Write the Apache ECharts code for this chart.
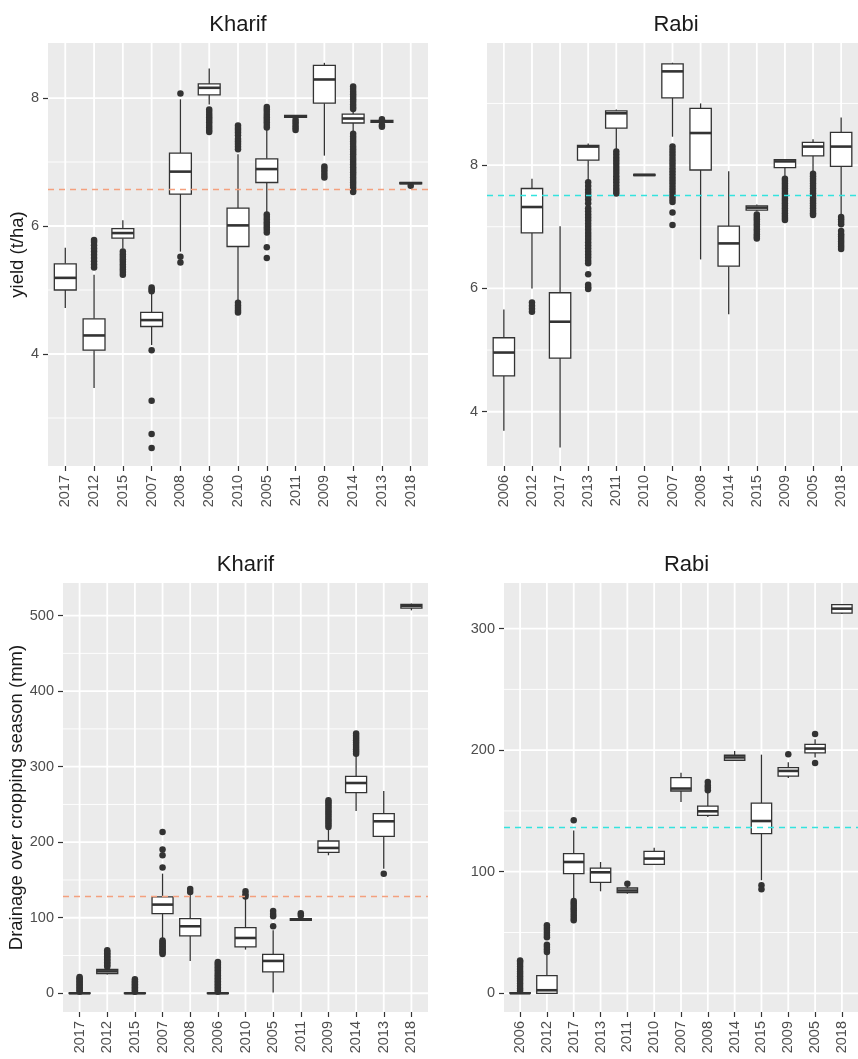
<!DOCTYPE html>
<html><head><meta charset="utf-8">
<script src="https://cdn.jsdelivr.net/npm/echarts@6/dist/echarts.min.js"></script>
<style>html,body{margin:0;padding:0;background:#fff}#c{width:858px;height:1059px}</style>
</head><body><div id="c"></div>
<script>
// ---------------- DATA ----------------
// box stats: [lower whisker, Q1, median, Q3, upper whisker]
const kyCats = ['2017','2012','2015','2007','2008','2006','2010','2005','2011','2009','2014','2013','2018'];
const kyBox = [
  [4.72, 5.0, 5.19, 5.41, 5.66],
  [3.47, 4.06, 4.29, 4.55, 5.24],
  [5.65, 5.81, 5.89, 5.96, 6.09],
  [4.14, 4.43, 4.53, 4.65, 4.95],
  [5.6, 6.5, 6.85, 7.14, 7.98],
  [7.9, 8.05, 8.16, 8.22, 8.46],
  [4.84, 5.68, 6.01, 6.28, 7.12],
  [6.22, 6.68, 6.89, 7.05, 7.5],
  [7.7, 7.7, 7.71, 7.73, 7.73],
  [7.1, 7.92, 8.29, 8.51, 8.55],
  [7.47, 7.61, 7.68, 7.75, 7.8],
  [7.62, 7.62, 7.63, 7.65, 7.65],
  [6.66, 6.66, 6.67, 6.68, 6.68]
];
const kyOut = [
  [],
  [5.35,5.4,5.45,5.5,5.55,5.6,5.65,5.7,5.75,5.78],
  [5.24,5.28,5.32,5.36,5.4,5.44,5.48,5.52,5.56,5.6],
  [4.98,5.01,5.04,4.06,3.27,2.75,2.53],
  [8.07,5.52,5.43],
  [7.47,7.5,7.54,7.58,7.62,7.66,7.7,7.74,7.78,7.82],
  [7.57,7.53,7.5,7.46,7.42,7.36,7.32,7.28,7.24,7.2,4.8,4.76,4.72,4.68,4.65],
  [7.86,7.82,7.78,7.74,7.7,7.66,7.62,7.58,7.54,6.18,6.14,6.1,6.06,6.02,5.98,5.94,5.9,5.67,5.5],
  [7.66,7.62,7.58,7.54,7.5],
  [6.93,6.89,6.85,6.8,6.76],
  [8.18,8.14,8.1,8.06,8.02,7.98,7.94,7.9,7.86,7.83,7.44,7.4,7.36,7.32,7.28,7.24,7.2,7.16,7.12,7.08,7.04,7.0,6.96,6.92,6.88,6.84,6.8,6.76,6.72,6.68,6.64,6.6,6.56,6.53],
  [7.67,7.58,7.55],
  [6.63]
];
const kyRef = 6.57;

const ryCats = ['2006','2012','2017','2013','2011','2010','2007','2008','2014','2015','2009','2005','2018'];
const ryBox = [
  [3.69, 4.58, 4.96, 5.2, 5.66],
  [6.0, 6.9, 7.32, 7.62, 7.78],
  [3.42, 4.87, 5.46, 5.93, 7.01],
  [7.76, 8.08, 8.3, 8.32, 8.35],
  [8.24, 8.6, 8.84, 8.88, 8.9],
  [7.83, 7.83, 7.84, 7.85, 7.85],
  [8.46, 9.09, 9.52, 9.64, 9.66],
  [6.47, 7.92, 8.52, 8.92, 9.0],
  [5.58, 6.36, 6.73, 7.01, 7.9],
  [7.25, 7.27, 7.31, 7.34, 7.36],
  [7.81, 7.96, 8.06, 8.09, 8.1],
  [7.87, 8.15, 8.3, 8.37, 8.42],
  [7.2, 7.98, 8.3, 8.53, 8.77]
];
const ryOut = [
  [],
  [5.77,5.72,5.67,5.62],
  [],
  [7.72,7.66,7.6,7.55,7.5,7.44,7.38,7.3,7.25,7.2,7.15,7.1,7.05,7.0,6.95,6.9,6.85,6.8,6.75,6.7,6.65,6.6,6.55,6.5,6.45,6.41,6.23,6.06,6.02,5.99],
  [8.22,8.17,8.12,8.07,8.02,7.97,7.92,7.87,7.82,7.77,7.72,7.67,7.62,7.58,7.54],
  [],
  [8.3,8.25,8.2,8.15,8.1,8.05,8.0,7.95,7.9,7.85,7.8,7.75,7.7,7.65,7.6,7.55,7.5,7.45,7.4,7.23,7.03],
  [],
  [],
  [7.2,7.16,7.12,7.08,7.04,7.0,6.96,6.92,6.88,6.84,6.81],
  [7.78,7.74,7.7,7.66,7.62,7.58,7.54,7.5,7.46,7.42,7.38,7.34,7.3,7.26,7.22,7.18,7.14,7.11],
  [7.86,7.82,7.78,7.74,7.7,7.66,7.62,7.58,7.54,7.5,7.46,7.42,7.38,7.34,7.3,7.26,7.22,7.19],
  [7.16,7.12,7.08,7.04,6.93,6.88,6.84,6.8,6.76,6.72,6.68,6.64]
];
const ryRef = 7.51;

const kdCats = ['2017','2012','2015','2007','2008','2006','2010','2005','2011','2009','2014','2013','2018'];
const kdBox = [
  [0, 0, 0, 0.5, 1],
  [25, 26, 29, 31.7, 34],
  [0, 0, 0, 0.5, 1],
  [72.4, 105.5, 117.4, 127.5, 158.4],
  [42.8, 75.9, 88.7, 98.9, 132],
  [0, 0, 0, 0.5, 1],
  [57.8, 61.3, 73.2, 87, 125],
  [1, 28.2, 42.8, 51.6, 83.4],
  [96, 96.6, 97.8, 98.9, 100],
  [182.7, 186.6, 192.4, 201.6, 218],
  [241.3, 265.7, 278.4, 287.3, 315],
  [165, 207.8, 227.7, 237.9, 267.8],
  [507, 510, 513, 515, 516]
];
const kdOut = [
  [2,4,6,8,10,12,14,16,18,20,21.6],
  [35,37,39,41,43,45,47,49,51,53,55,57],
  [2,4,6,8,10,12,14,16,18.5],
  [213.5,190.2,182.7,166.4,70,68,66,64,62,60,58,56,54,52],
  [138,134],
  [2,4,6,8,10,12,14,16,18,20,22,24,26,28,30,32,34,36,38,40,41.4],
  [135,131,128],
  [109,105,102,88.7],
  [106,103],
  [220,223,226,229,232,235,238,241,244,247,250,253,255.5],
  [317,320,323,326,329,332,335,338,341,343.8],
  [158.4],
  []
];
const kdRef = 128.8;

const rdCats = ['2006','2012','2017','2013','2011','2010','2007','2008','2014','2015','2009','2005','2018'];
const rdBox = [
  [0, 0, 0, 0.5, 1],
  [0, 0, 2.5, 14.5, 32],
  [77.9, 98.5, 108, 114.9, 134],
  [83.9, 91.3, 99.5, 103, 108],
  [81.9, 82.8, 84.5, 86.6, 88],
  [106.1, 106.1, 110.8, 116.8, 119.8],
  [157.4, 166.4, 168.4, 177.4, 181.5],
  [145, 146.4, 149.7, 154, 165],
  [191.7, 191.7, 194, 195.8, 199.3],
  [93, 131.4, 141.7, 156.5, 196.3],
  [177, 178.7, 182.9, 185.6, 190],
  [194, 197.7, 201.3, 204.8, 209],
  [312, 312.8, 316.4, 319.7, 320]
];
const rdOut = [
  [2,4,6,8,10,12,14,16,18,20,22,24,26,27],
  [34,36,38,40,46,48,50,52,54,56],
  [142.3,76,74,72,70,68,66,64,62,60],
  [],
  [90.2],
  [],
  [],
  [167,169,171,173.8],
  [],
  [88.8,85.5],
  [196.6],
  [213.3,189.4],
  []
];
const rdRef = 136.8;

const yieldMajor = [4, 6, 8];
const kyMinor = [3, 5, 7];
const ryMinor = [5, 7, 9];
const kdMajor = [0, 100, 200, 300, 400, 500];
const kdMinor = [50, 150, 250, 350, 450];
const rdMajor = [0, 100, 200, 300];
const rdMinor = [50, 150, 250];

// ---------------- LAYOUT / STYLE ----------------
const FONT = "'Liberation Sans', Arial, Helvetica, sans-serif";
const INK = '#333333';
const ORANGE = '#F4A07E';
const CYAN = '#33E3DE';

const panels = [
  {cats: kyCats, box: kyBox, out: kyOut, ref: kyRef, refColor: ORANGE, min: 2.25, max: 8.86,
   major: yieldMajor, minor: kyMinor, title: 'Kharif', name: 'yield (t/ha)', nameGap: 19,
   grid: {left: 48, top: 43, width: 380, height: 423}, tx: 238, ty: 14},
  {cats: ryCats, box: ryBox, out: ryOut, ref: ryRef, refColor: CYAN, min: 3.12, max: 9.98,
   major: yieldMajor, minor: ryMinor, title: 'Rabi', name: '', nameGap: 0,
   grid: {left: 487, top: 43, width: 379, height: 423}, tx: 676, ty: 14},
  {cats: kdCats, box: kdBox, out: kdOut, ref: kdRef, refColor: ORANGE, min: -24.8, max: 543.2,
   major: kdMajor, minor: kdMinor, title: 'Kharif', name: 'Drainage over cropping season (mm)', nameGap: 37,
   grid: {left: 63, top: 583, width: 365, height: 429}, tx: 245.5, ty: 554},
  {cats: rdCats, box: rdBox, out: rdOut, ref: rdRef, refColor: CYAN, min: -15.4, max: 337.5,
   major: rdMajor, minor: rdMinor, title: 'Rabi', name: '', nameGap: 0,
   grid: {left: 504, top: 583, width: 365, height: 429}, tx: 686.5, ty: 554}
];

const HW = 0.38; // half box width in category units

function renderBox(params, api) {
  const x = api.value(0);
  const lo = api.value(1), q1 = api.value(2), md = api.value(3), q3 = api.value(4), hi = api.value(5);
  const pHi = api.coord([x, hi]), pQ3 = api.coord([x, q3]), pMd = api.coord([x, md]);
  const pQ1 = api.coord([x, q1]), pLo = api.coord([x, lo]);
  const l = api.coord([x - HW, q3])[0], r = api.coord([x + HW, q3])[0];
  const ls = {stroke: INK, lineWidth: 1.3};
  return {type: 'group', children: [
    {type: 'line', shape: {x1: pHi[0], y1: pHi[1], x2: pQ3[0], y2: pQ3[1]}, style: ls},
    {type: 'line', shape: {x1: pQ1[0], y1: pQ1[1], x2: pLo[0], y2: pLo[1]}, style: ls},
    {type: 'rect', shape: {x: l, y: pQ3[1], width: r - l, height: Math.max(pQ1[1] - pQ3[1], 0.6)},
     style: {fill: '#ffffff', stroke: INK, lineWidth: 1.3}},
    {type: 'line', shape: {x1: l, y1: pMd[1], x2: r, y2: pMd[1]}, style: {stroke: INK, lineWidth: 2.6}}
  ]};
}

function makeGridRenderer(p) {
  return function (params, api) {
    const cs = params.coordSys;
    const dir = api.value(0), v = api.value(1), w = api.value(2);
    if (dir === 0) {
      const y = api.coord([0, v])[1];
      return {type: 'line', shape: {x1: cs.x, y1: y, x2: cs.x + cs.width, y2: y},
              style: {stroke: '#ffffff', lineWidth: w}};
    }
    const x = api.coord([v, p.min])[0];
    return {type: 'line', shape: {x1: x, y1: cs.y, x2: x, y2: cs.y + cs.height},
            style: {stroke: '#ffffff', lineWidth: w}};
  };
}

const grids = [], xAxes = [], yAxes = [], series = [], titles = [];
panels.forEach((p, k) => {
  grids.push(Object.assign({show: true, backgroundColor: '#EBEBEB', borderWidth: 0}, p.grid));
  const idx = p.cats.map((c, i) => i);
  xAxes.push({
    type: 'value', gridIndex: k, min: -0.6, max: 12.6, position: 'bottom',
    axisLine: {show: false, onZero: false},
    axisTick: {show: true, customValues: idx, length: 5, lineStyle: {color: INK, width: 1.2}},
    axisLabel: {customValues: idx, rotate: 90, margin: 9, color: '#4D4D4D', fontSize: 14.5, fontFamily: FONT,
                formatter: v => p.cats[Math.round(v)]},
    splitLine: {show: false}
  });
  yAxes.push({
    type: 'value', gridIndex: k, min: p.min, max: p.max, position: 'left',
    axisLine: {show: false, onZero: false},
    axisTick: {show: true, customValues: p.major, length: 5, lineStyle: {color: INK, width: 1.2}},
    axisLabel: {customValues: p.major, margin: 9, color: '#4D4D4D', fontSize: 14.5, fontFamily: FONT},
    splitLine: {show: false},
    name: p.name, nameLocation: 'middle', nameRotate: 90, nameGap: p.nameGap,
    nameTextStyle: {color: '#1A1A1A', fontSize: 18.5, fontFamily: FONT}
  });
  const gl = p.major.map(v => [0, v, 1.8])
    .concat(p.minor.map(v => [0, v, 0.9]))
    .concat(idx.map(i => [1, i, 1.8]));
  series.push({
    type: 'custom', xAxisIndex: k, yAxisIndex: k, silent: true, z: 1,
    renderItem: makeGridRenderer(p), data: gl, encode: {x: 0, y: 1}
  });
  series.push({
    type: 'custom', xAxisIndex: k, yAxisIndex: k, silent: true, z: 2,
    renderItem: renderBox,
    data: p.box.map((b, i) => [i].concat(b)),
    encode: {x: 0, y: [1, 2, 3, 4, 5]},
    markLine: {silent: true, symbol: ['none', 'none'], label: {show: false}, animation: false,
               lineStyle: {color: p.refColor, type: [6, 5], width: 1.4},
               data: [{yAxis: p.ref}]}
  });
  const pts = [];
  p.out.forEach((arr, i) => arr.forEach(v => pts.push([i, v])));
  series.push({
    type: 'scatter', xAxisIndex: k, yAxisIndex: k, silent: true, z: 3,
    symbol: 'circle', symbolSize: 6.5, itemStyle: {color: INK, opacity: 1},
    data: pts
  });
  titles.push({text: p.title, left: p.tx, top: p.ty, textAlign: 'center', padding: 0,
               textStyle: {color: '#1A1A1A', fontSize: 22, fontWeight: 'normal', fontFamily: FONT}});
});

const chart = echarts.init(document.getElementById('c'), null, {renderer: 'canvas'});
chart.setOption({
  animation: false,
  backgroundColor: '#ffffff',
  title: titles,
  grid: grids,
  xAxis: xAxes,
  yAxis: yAxes,
  series: series
});
</script></body></html>
